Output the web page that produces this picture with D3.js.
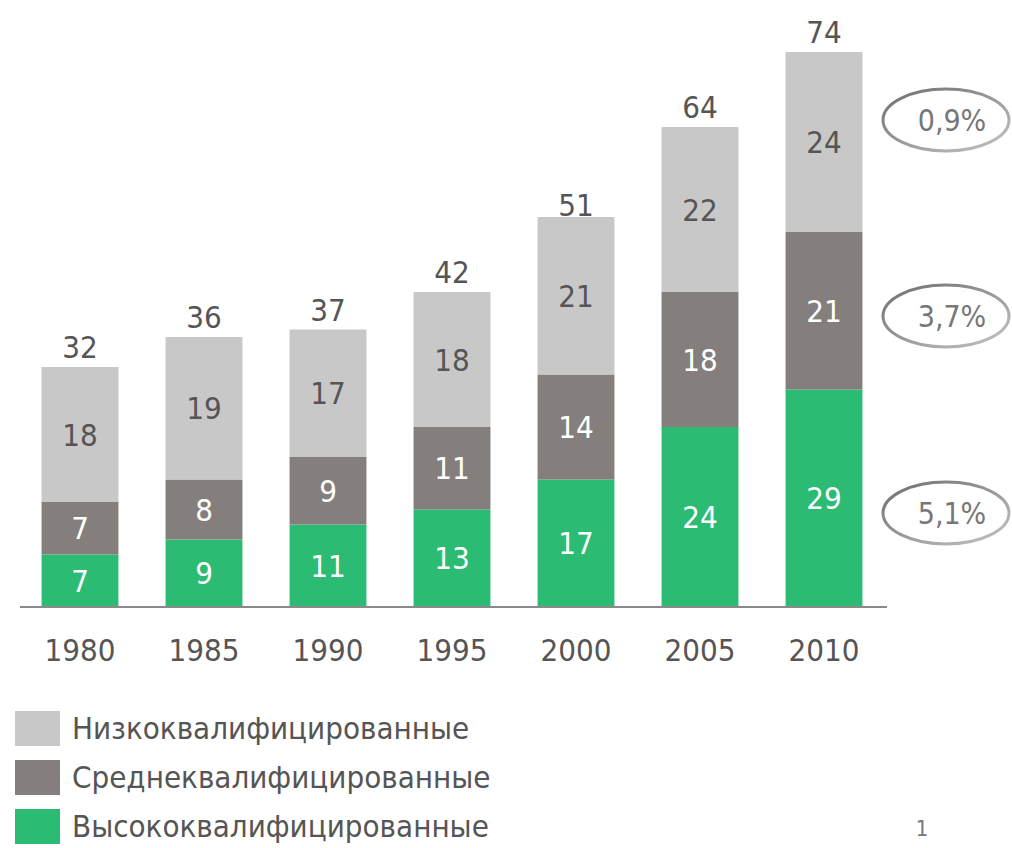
<!DOCTYPE html>
<html>
<head>
<meta charset="utf-8">
<script src="https://cdn.jsdelivr.net/npm/d3@7"></script>
<style>
  body { margin: 0; background: #fff; }
  svg text { font-family: "DejaVu Sans Condensed", "DejaVu Sans", sans-serif; }
</style>
</head>
<body>
<div id="chart"></div>
<script>
// data
var years = ["1980", "1985", "1990", "1995", "2000", "2005", "2010"];
var high = [7, 9, 11, 13, 17, 24, 29];
var mid = [7, 8, 9, 11, 14, 18, 21];
var low = [18, 19, 17, 18, 21, 22, 24];
var totals = [32, 36, 37, 42, 51, 64, 74];
var growth = ["5,1%", "3,7%", "0,9%"]; // high, mid, low
var seriesNames = ["Низкоквалифицированные", "Среднеквалифицированные", "Высококвалифицированные"];

var colors = {high: "#2bbb73", mid: "#847f7d", low: "#c8c8c8"};

var width = 1012, height = 848;
var svg = d3.select("#chart").append("svg")
    .attr("width", width)
    .attr("height", height);

var data = years.map(function(y, i) {
  return {year: y, high: high[i], mid: mid[i], low: low[i], total: totals[i]};
});

var stack = d3.stack().keys(["high", "mid", "low"]);
var series = stack(data);

// scales
var x = d3.scaleBand()
    .domain(years)
    .range([18, 886])
    .paddingInner(0.38)
    .paddingOuter(0.19);
var y = d3.scaleLinear()
    .domain([0, 74])
    .range([607, 52]);

// bars
var layer = svg.selectAll(".layer")
    .data(series)
  .enter().append("g")
    .attr("class", "layer")
    .style("fill", function(d) { return colors[d.key]; });

layer.selectAll("rect")
    .data(function(d) { return d; })
  .enter().append("rect")
    .attr("x", function(d) { return x(d.data.year); })
    .attr("y", function(d) { return y(d[1]); })
    .attr("width", x.bandwidth())
    .attr("height", function(d) { return y(d[0]) - y(d[1]); });

// segment labels
series.forEach(function(s) {
  svg.selectAll(".lbl-" + s.key)
      .data(s)
    .enter().append("text")
      .attr("x", function(d) { return x(d.data.year) + x.bandwidth() / 2; })
      .attr("y", function(d) { return (y(d[0]) + y(d[1])) / 2 + 11; })
      .attr("text-anchor", "middle")
      .style("font-size", "31px")
      .style("fill", s.key == "low" ? "#555" : "#fff")
      .text(function(d) { return d[1] - d[0]; });
});

// totals
svg.selectAll(".total")
    .data(data)
  .enter().append("text")
    .attr("x", function(d) { return x(d.year) + x.bandwidth() / 2; })
    .attr("y", function(d) { return y(d.total) - 9; })
    .attr("text-anchor", "middle")
    .style("font-size", "31px")
    .style("fill", "#555")
    .text(function(d) { return d.total; });

// axis
var xAxis = svg.append("g")
    .attr("transform", "translate(0,607)")
    .call(d3.axisBottom(x).tickSize(0).tickPadding(32));
xAxis.select(".domain").attr("d", "M20,0H887").attr("stroke", "#8a8a8a").attr("stroke-width", 2);
xAxis.selectAll("text")
    .style("font-size", "31px")
    .style("font-family", "DejaVu Sans Condensed")
    .style("fill", "#555");

// growth rate ellipses
var defs = svg.append("defs");
var grad = defs.append("linearGradient")
    .attr("id", "ring")
    .attr("x1", "0").attr("y1", "0")
    .attr("x2", "1").attr("y2", "1");
grad.append("stop").attr("offset", "0%").attr("stop-color", "#6e6e6e");
grad.append("stop").attr("offset", "100%").attr("stop-color", "#c4c4c4");

var ringY = [513, 316, 120];
growth.forEach(function(g, i) {
  svg.append("ellipse")
      .attr("cx", 946)
      .attr("cy", ringY[i])
      .attr("rx", 63)
      .attr("ry", 31)
      .attr("fill", "none")
      .attr("stroke", "url(#ring)")
      .attr("stroke-width", 3);
  svg.append("text")
      .attr("x", 952)
      .attr("y", ringY[i] + 11)
      .attr("text-anchor", "middle")
      .style("font-size", "30px")
      .style("fill", "#777")
      .text(g);
});

// legend
var legendColors = [colors.low, colors.mid, colors.high];
var legend = svg.selectAll(".legend")
    .data(seriesNames)
  .enter().append("g")
    .attr("class", "legend")
    .attr("transform", function(d, i) { return "translate(15," + (711 + i * 49) + ")"; });

legend.append("rect")
    .attr("width", 45)
    .attr("height", 35)
    .style("fill", function(d, i) { return legendColors[i]; });

legend.append("text")
    .attr("x", 57)
    .attr("y", 28)
    .style("font-size", "31px")
    .style("fill", "#555")
    .text(function(d) { return d; });

// page number
svg.append("text")
    .attr("x", 922)
    .attr("y", 836)
    .attr("text-anchor", "middle")
    .style("font-size", "22px")
    .style("fill", "#777")
    .text("1");
</script>
</body>
</html>
